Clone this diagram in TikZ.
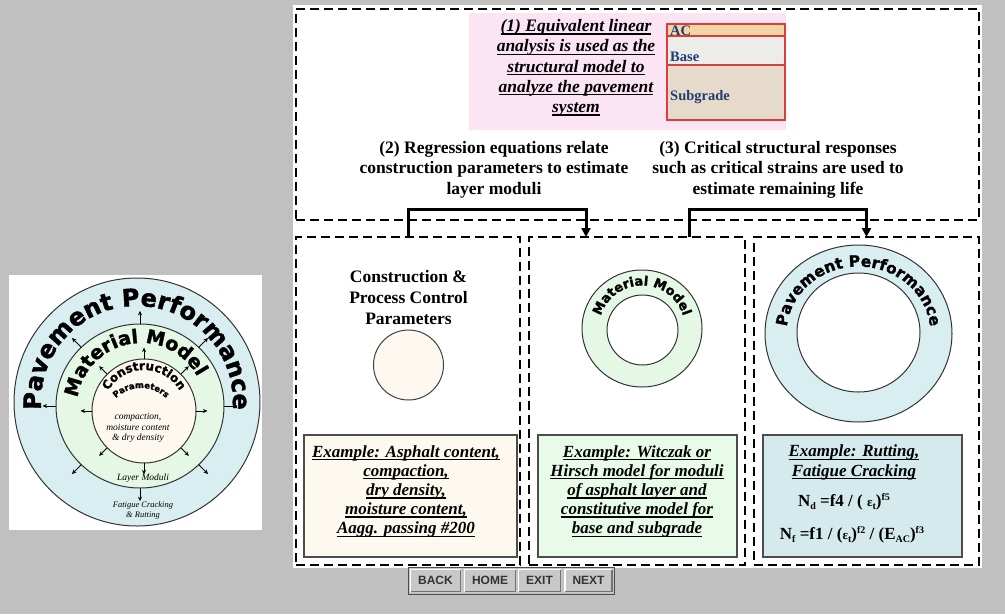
\documentclass[tikz,border=0pt]{standalone}
\usepackage{fontspec}
\setmainfont{Liberation Serif}
\newfontfamily\heavy[BoldFont={DejaVu Sans Bold}, BoldFeatures={FakeBold=1.6}]{DejaVu Sans}
\newfontfamily\btnfont{Liberation Sans}
\usetikzlibrary{decorations.text,arrows.meta,calc,shapes.geometric}

\definecolor{bggray}{HTML}{C0C0C0}
\definecolor{pinkbg}{HTML}{FBE4F3}
\definecolor{acband}{HTML}{F4D6A6}
\definecolor{baseband}{HTML}{ECECE8}
\definecolor{subband}{HTML}{E6DACB}
\definecolor{layerred}{HTML}{DD3C3C}
\definecolor{layertext}{HTML}{203C70}
\definecolor{ringblue}{HTML}{D8EEF1}
\definecolor{ringgreen}{HTML}{E5F7E5}
\definecolor{cream}{HTML}{FDF9F0}
\definecolor{excream}{HTML}{FDF9EF}
\definecolor{exgreen}{HTML}{E8FAE8}
\definecolor{exblue}{HTML}{D4EAEC}
\definecolor{btnface}{HTML}{C8C8C8}
\definecolor{btntext}{HTML}{333333}

\newcommand\fsz[2]{\fontsize{#1}{#2}\selectfont}
\newcommand\undl[1]{\leavevmode\setbox0=\hbox{#1}\rlap{\rule[-3pt]{\wd0}{1.3pt}}\box0}
\newcommand\sbs[1]{\raisebox{-3pt}{\fsz{10}{10}#1}}
\newcommand\sps[1]{\raisebox{6pt}{\fsz{10}{10}#1}}
\newcommand\epsgl{{\fsz{13}{13}ε}}
% fonts for the curved ring labels
\newcommand\ppbig{\heavy\bfseries\fsz{24}{24}}
\newcommand\mmbig{\heavy\bfseries\fsz{19}{19}}
\newcommand\cnfont{\heavy\bfseries\fsz{12}{12}}
\newcommand\pmfont{\heavy\bfseries\fsz{8.5}{8.5}}
\newcommand\mmsmall{\heavy\bfseries\fsz{13}{13}}
\newcommand\ppsmall{\heavy\bfseries\fsz{15.5}{15.5}}

\begin{document}
\begin{tikzpicture}[x=1pt,y=-1pt,
  dashbox/.style={draw=black, line width=2.2pt, dash pattern=on 9pt off 5pt, inner sep=0, outer sep=0, rectangle},
  conn/.style={line width=3pt, -{Triangle[length=9pt,width=9pt]}},
  spoke/.style={line width=0.9pt, -{Stealth[length=4.5pt,width=4pt]}},
  exbox/.style={draw=black!70, line width=1.2pt, inner sep=0, outer sep=0, minimum height=122pt},
  ring/.style={ellipse, draw=black!80, line width=1pt, inner sep=0, outer sep=0},
  heading/.style={font=\bfseries\fsz{17.5}{20.5}, align=center, inner sep=0},
  extext/.style={font=\bfseries\itshape\fsz{17}{19.2}, align=center, inner sep=0},
  formula/.style={font=\bfseries\fsz{17}{17}, inner sep=0},
  layertxt/.style={font=\bfseries\fsz{14.5}{14.5}, text=layertext, anchor=west, inner sep=0},
  figtxt/.style={font=\itshape\fsz{9.5}{10.8}, align=center, inner sep=0},
  btn/.style={fill=btnface, minimum height=25pt, inner sep=0, outer sep=0,
    font=\btnfont\bfseries\fsz{12}{12}, text=btntext}
]
\useasboundingbox (0,0) rectangle (1005,614);
\fill[bggray] (0,0) rectangle (1005,614);

% ---------- left overview figure ----------
\node[fill=white, minimum width=253pt, minimum height=255pt, inner sep=0] (fig) at (135.5,402.5) {};
\node[ring, fill=ringblue, minimum width=246pt, minimum height=248pt] (pp) at (137,402) {};
\node[ring, fill=ringgreen, minimum width=168pt, minimum height=164pt] (mm) at (140,406) {};
\node[ring, fill=cream, minimum width=104pt, minimum height=104pt] (cp) at (144,411) {};
\foreach \a in {0,45,...,315} {
  \draw[spoke] (cp.\a) -- ($(cp.center)!1.22!(cp.\a)$);
  \draw[spoke] (mm.\a) -- ($(mm.center)!1.16!(mm.\a)$);
}
\path[decorate, decoration={text along path, text align=center, text={|\ppbig|Pavement Performance}}]
  (137,402) ++(-220:96) arc[start angle=-220, end angle=40, radius=96];
\path[decorate, decoration={text along path, text align=center, text={|\mmbig|Material Model}}]
  (141,407) ++(-220:64) arc[start angle=-220, end angle=20, radius=64];
\path[decorate, decoration={text along path, text align=center, text={|\cnfont|Construction}}]
  (144,411) ++(-210:41) arc[start angle=-210, end angle=30, radius=41];
\path[decorate, decoration={text along path, text align=center, text={|\pmfont|Parameters}}]
  (141,424) ++(-180:36) arc[start angle=-180, end angle=0, radius=36];
\node[figtxt] (cmp) at (138,428) {compaction,\\moisture content\\\& dry density};
\node[figtxt] (lmod) at (143,478) {Layer Moduli};
\node[figtxt, font=\itshape\fsz{8.5}{10.5}] (fcr) at (143,510.5) {Fatigue Cracking\\\& Rutting};

% ---------- main panel ----------
\fill[white] (293,5) rectangle (982,568);

\node[dashbox, minimum width=683pt, minimum height=211pt] (tbox) at (637.5,114.5) {};
\node[dashbox, minimum width=224pt, minimum height=328pt] (lbox) at (408,401) {};
\node[dashbox, minimum width=216pt, minimum height=328pt] (mbox) at (637,401) {};
\node[dashbox, minimum width=225pt, minimum height=328pt] (rbox) at (866.5,401) {};

% step (1): layered pavement model
\node[fill=pinkbg, minimum width=317pt, minimum height=117pt, inner sep=0] (pink) at (627.5,71.5) {};
\node[heading, font=\bfseries\itshape\fsz{17.5}{20.3}] (h1) at (576,68)
  {\undl{(1) Equivalent linear}\\\undl{analysis is used as the}\\\undl{structural model to}\\\undl{analyze the pavement}\\\undl{system}};
\node[draw=layerred, line width=1.2pt, fill=acband, minimum width=118pt, minimum height=12pt, inner sep=0] (ac) at (726,30) {};
\node[draw=layerred, line width=1.2pt, fill=baseband, minimum width=118pt, minimum height=29pt, inner sep=0] (base) at (726,50.5) {};
\node[draw=layerred, line width=1.2pt, fill=subband, minimum width=118pt, minimum height=55pt, inner sep=0] (subg) at (726,92.5) {};
\node[layertxt] (actxt) at (670,30.5) {AC};
\node[layertxt] (basetxt) at (670,57) {Base};
\node[layertxt] (subtxt) at (670,97.5) {Subgrade};

% steps (2) and (3)
\node[heading] (h2) at (494,169.5) {(2) Regression equations relate\\construction parameters to estimate\\layer moduli};
\node[heading] (h3) at (778,169.5) {(3) Critical structural responses\\such as critical strains are used to\\estimate remaining life};
\draw[conn] (lbox.north) -- ++(0,-27.5) -| ([xshift=-51pt]mbox.north);
\draw[conn] ([xshift=52pt]mbox.north) -- ++(0,-27.5) -| (rbox.north);

% construction parameters column
\node[heading, font=\bfseries\fsz{17.5}{21}] (cpt) at (408.5,298) {Construction \&\\Process Control\\Parameters};
\node[circle, draw=black!75, line width=1pt, fill=cream, minimum size=70pt, inner sep=0] (cpc) at (408.5,365) {};
\node[exbox, fill=excream, minimum width=213pt] (ex1) at (410.5,496) {};
\node[extext] (ex1t) at (406,491.5)
  {\undl{Example: Asphalt content,}\\\undl{compaction,}\\\undl{dry density,}\\\undl{moisture content,}\\\undl{Aagg. passing \#200}};

% material model column
\node[ring, fill=ringgreen, minimum width=120pt, minimum height=117pt] (mmo) at (642,328.5) {};
\node[ring, fill=white, minimum width=71pt, minimum height=70pt] (mmi) at (642.5,330) {};
\path[decorate, decoration={text along path, text align=center, text={|\mmsmall|Material Model}}]
  (642,328.5) ++(-200:43) arc[start angle=-200, end angle=20, radius=43];
\node[exbox, fill=exgreen, minimum width=199pt] (ex2) at (637.5,496) {};
\node[extext] (ex2t) at (637,491.5)
  {\undl{Example: Witczak or}\\\undl{Hirsch model for moduli}\\\undl{of asphalt layer and}\\\undl{constitutive model for}\\\undl{base and subgrade}};

% pavement performance column
\node[ring, fill=ringblue, minimum width=187pt, minimum height=177pt] (ppo) at (858.5,333.5) {};
\node[ring, fill=white, minimum width=123pt, minimum height=119pt] (ppi) at (858.5,332.5) {};
\path[decorate, decoration={text along path, text align=center, text={|\ppsmall|Pavement Performance}}]
  (858.5,333.5) ++(-200:72 and 67) arc[start angle=-200, end angle=20, x radius=72, y radius=67];
\node[exbox, fill=exblue, minimum width=199pt] (ex3) at (862.5,496) {};
\node[extext] (ex3t) at (854,462.5) {\undl{Example: Rutting,}\\\undl{Fatigue Cracking}};
\node[formula] (nd) at (844,502) {N\sbs{d} =f4 / ( \epsgl\sbs{t})\sps{f5}};
\node[formula] (nf) at (852,535) {N\sbs{f} =f1 / (\epsgl\sbs{t})\sps{f2} / (E\sbs{AC})\sps{f3}};

% ---------- navigation buttons ----------
\draw[black!70, line width=1pt] (408,567.5) rectangle (614,594.5);
\node[btn, minimum width=53pt] (back) at (435.5,580.5) {BACK};
\node[btn, minimum width=54pt] (home) at (490,580.5) {HOME};
\node[btn, minimum width=45pt] (exit) at (539.5,580.5) {EXIT};
\node[btn, minimum width=50pt] (next) at (588.5,580.5) {NEXT};
\foreach \b in {back,home,exit,next} {
  \draw[white, line width=1.2pt] ([shift={(1.5,-1.5)}]\b.south west) |- ([shift={(-1.5,1.5)}]\b.north east);
  \draw[black!55, line width=1.2pt] ([shift={(1.5,-1.5)}]\b.south west) -| ([shift={(-1.5,1.5)}]\b.north east);
}
\end{tikzpicture}
\end{document}
